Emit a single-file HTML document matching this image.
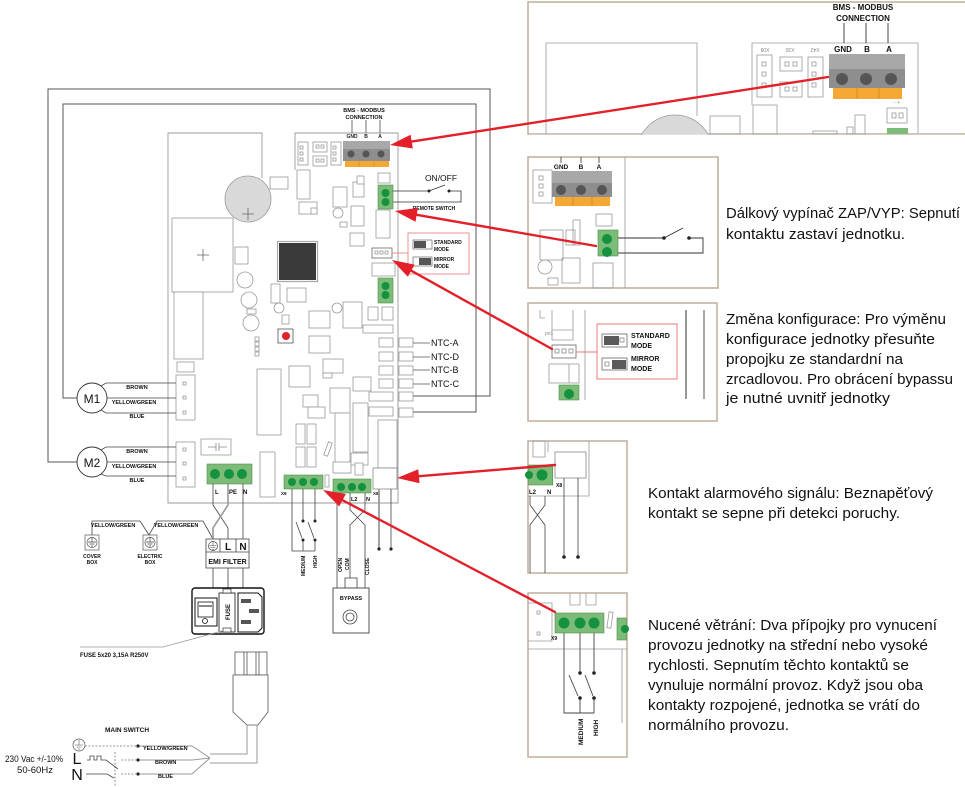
<!DOCTYPE html>
<html><head><meta charset="utf-8">
<style>html,body{margin:0;padding:0;background:#fff}svg{display:block}</style></head>
<body>
<svg width="965" height="787" viewBox="0 0 965 787" xmlns="http://www.w3.org/2000/svg" font-family="Liberation Sans, sans-serif">
<rect width="965" height="787" fill="#fff"/>

<!-- ================= MAIN DIAGRAM ================= -->
<g fill="none" stroke="#555" stroke-width="1">
  <path d="M77,462 H48 V89 H490 V396 H413"/>
  <path d="M77,398 H63 V104 H476 V412 H413"/>
</g>

<g fill="none" stroke="#999" stroke-width="0.9">
  <path d="M262,178 V133 H168 V503 H398 V133 H295 V170"/>
</g>

<g fill="#fff" stroke="#9a9a9a" stroke-width="0.8">
  <rect x="298" y="142" width="10" height="23"/>
  <rect x="313" y="142" width="14" height="10"/>
  <rect x="313" y="156" width="14" height="10"/>
  <rect x="331" y="142" width="10" height="23"/>
  <rect x="300" y="146" width="3" height="3"/><rect x="300" y="152" width="3" height="3"/><rect x="300" y="158" width="3" height="3"/>
  <rect x="316" y="145" width="3" height="3"/><rect x="321" y="145" width="3" height="3"/>
  <rect x="316" y="159" width="3" height="3"/><rect x="321" y="159" width="3" height="3"/>
  <rect x="333" y="146" width="3" height="3"/><rect x="333" y="152" width="3" height="3"/><rect x="333" y="158" width="3" height="3"/>
  <circle cx="248" cy="199" r="23" fill="#d9d9d9" stroke="#999"/>
  <rect x="270" y="177" width="18" height="12"/>
  <rect x="297" y="170" width="13" height="29"/>
  <rect x="299" y="202" width="18" height="12"/><rect x="311" y="208" width="6" height="6"/>
  <rect x="378" y="173" width="12" height="10"/>
  <rect x="333" y="187" width="14" height="20"/>
  <rect x="353" y="182" width="11" height="15"/><rect x="357" y="176" width="7" height="8"/>
  <circle cx="338" cy="213" r="5"/><rect x="340" y="222" width="7" height="5"/>
  <rect x="351" y="206" width="13" height="20"/>
  <rect x="376" y="210" width="14" height="28"/>
  <rect x="350" y="233" width="14" height="13"/>
  <rect x="172" y="218" width="61" height="74"/>
  <rect x="174" y="292" width="29" height="67"/>
  <rect x="235" y="247" width="13" height="17"/>
  <circle cx="245" cy="280" r="8"/><circle cx="249" cy="300" r="8"/><circle cx="251" cy="323" r="8"/>
  <rect x="247" y="309" width="9" height="5"/>
  <rect x="271" y="284" width="9" height="19"/><circle cx="279" cy="308" r="5"/><rect x="282" y="315" width="7" height="9"/>
  <rect x="287" y="288" width="19" height="14"/>
  <rect x="255" y="337" width="4" height="4"/><rect x="255" y="342" width="4" height="4"/><rect x="255" y="347" width="4" height="4"/><rect x="255" y="352" width="4" height="4"/>
  <rect x="257" y="369" width="24" height="66"/>
  <rect x="309" y="311" width="21" height="17"/>
  <rect x="309" y="336" width="21" height="17"/>
  <rect x="289" y="366" width="21" height="21"/>
  <rect x="323" y="359" width="20" height="14"/><rect x="323" y="373" width="9" height="5"/>
  <rect x="343" y="302" width="19" height="26"/>
  <circle cx="337" cy="308" r="5"/>
  <rect x="368" y="307" width="10" height="13"/><rect x="382" y="307" width="11" height="13"/>
  <rect x="363" y="325" width="30" height="8"/>
  <rect x="379" y="338" width="14" height="9"/><rect x="379" y="352" width="14" height="9"/>
  <rect x="379" y="366" width="14" height="9"/><rect x="379" y="379" width="14" height="9"/>
  <rect x="369" y="392" width="24" height="9"/><rect x="369" y="407" width="24" height="9"/>
  <rect x="399" y="338" width="14" height="9"/><rect x="399" y="352" width="14" height="9"/>
  <rect x="399" y="366" width="14" height="9"/><rect x="399" y="379" width="14" height="9"/>
  <rect x="399" y="392" width="14" height="9"/><rect x="399" y="408" width="14" height="9"/>
  <rect x="353" y="377" width="18" height="14"/>
  <rect x="330" y="388" width="20" height="25"/>
  <rect x="303" y="395" width="15" height="12"/><rect x="308" y="407" width="17" height="11"/>
  <rect x="335" y="413" width="15" height="60"/>
  <rect x="353" y="403" width="15" height="49"/>
  <rect x="378" y="420" width="19" height="48"/>
  <rect x="296" y="424" width="9" height="20"/><rect x="307" y="424" width="9" height="20"/>
  <rect x="296" y="447" width="9" height="20"/><rect x="307" y="447" width="9" height="20"/>
  <rect x="326" y="442" width="4" height="14" transform="rotate(20 328 449)"/>
  <rect x="325" y="475" width="4" height="12"/>
  <rect x="177" y="362" width="17" height="10"/>
  <rect x="176" y="375" width="19" height="45"/>
  <rect x="183" y="382" width="3" height="3"/><rect x="183" y="396" width="3" height="3"/><rect x="183" y="411" width="3" height="3"/>
  <rect x="176" y="442" width="19" height="45"/>
  <rect x="183" y="448" width="3" height="3"/><rect x="183" y="462" width="3" height="3"/><rect x="183" y="477" width="3" height="3"/>
  <rect x="201" y="439" width="30" height="16"/>
  <rect x="260" y="452" width="15" height="45"/>
  <rect x="333" y="462" width="18" height="11"/><rect x="351" y="453" width="17" height="12"/><rect x="355" y="463" width="8" height="12"/>
  <rect x="373" y="468" width="24" height="21" stroke="#888"/>
  <rect x="372" y="263" width="23" height="13"/>
  <rect x="372" y="248" width="20" height="10" stroke="#666"/>
  <rect x="375" y="251" width="3" height="3"/><rect x="380" y="251" width="3" height="3"/><rect x="385" y="251" width="3" height="3"/>
</g>
<path d="M242,214 h12 M248,208 v12 M197,255 h12 M203,249 v12" stroke="#666" stroke-width="0.8"/>
<path d="M208,447 h8 M216,443 v8 M219,443 v8 M219,447 h8" stroke="#888" stroke-width="0.8" fill="none"/>
<rect x="277.5" y="241.5" width="40" height="40" fill="none" stroke="#555" stroke-width="1.2" stroke-dasharray="1,1"/>
<rect x="279" y="243" width="37" height="37" fill="#3a3a3a"/>
<rect x="278" y="329" width="15" height="14" fill="#fff" stroke="#555" stroke-width="0.8"/>
<circle cx="286" cy="336" r="4" fill="#e0202a"/>

<rect x="343" y="141" width="47" height="8" fill="#a8a8a8"/>
<rect x="343" y="149" width="47" height="12" fill="#8e8e8e"/>
<rect x="345" y="161" width="44" height="6" fill="#f5a833"/>
<path d="M359,161 v6 M374,161 v6" stroke="#c98a20" stroke-width="0.6"/>
<circle cx="351" cy="154" r="3.5" fill="#555"/><circle cx="366" cy="154" r="3.5" fill="#555"/><circle cx="381" cy="154" r="3.5" fill="#555"/>
<g font-size="5" font-weight="bold" fill="#222" text-anchor="middle">
  <text x="352" y="138">GND</text><text x="366" y="138">B</text><text x="380" y="138">A</text>
</g>
<path d="M352,120 V133 M366,120 V133 M380,120 V133" stroke="#333" stroke-width="0.7"/>
<g font-size="5.5" font-weight="bold" fill="#111" text-anchor="middle">
  <text x="364" y="112">BMS - MODBUS</text>
  <text x="364" y="119">CONNECTION</text>
</g>

<rect x="378" y="185" width="15" height="24" fill="#7cbb78" stroke="#4d8f4d" stroke-width="0.6"/>
<circle cx="385.5" cy="193" r="4" fill="#14923f"/><circle cx="385.5" cy="202" r="4" fill="#14923f"/>
<rect x="378" y="278" width="15" height="25" fill="#7cbb78" stroke="#4d8f4d" stroke-width="0.6"/>
<circle cx="385.5" cy="286" r="4" fill="#14923f"/><circle cx="385.5" cy="295" r="4" fill="#14923f"/>

<g stroke="#333" stroke-width="0.8" fill="none">
  <path d="M393,191 H429 L445,185 M449,191 H461 V202 H393"/>
</g>
<circle cx="429" cy="191" r="1.5" fill="#222"/><circle cx="449" cy="191" r="1.5" fill="#222"/>
<text x="441" y="181" font-size="8.5" text-anchor="middle" fill="#111">ON/OFF</text>
<text x="434" y="210" font-size="5" font-weight="bold" text-anchor="middle" fill="#111">REMOTE SWITCH</text>

<path d="M392,253 H408" stroke="#e87878" stroke-width="0.8"/>
<rect x="408" y="233" width="61" height="41" fill="none" stroke="#e87878" stroke-width="0.8"/>
<rect x="413" y="240" width="19" height="9" fill="#fff" stroke="#666" stroke-width="0.7"/>
<rect x="414" y="241" width="12" height="7" fill="#555"/>
<rect x="413" y="257" width="19" height="9" fill="#fff" stroke="#666" stroke-width="0.7"/>
<rect x="419" y="258" width="12" height="7" fill="#555"/>
<g font-size="5" font-weight="bold" fill="#111">
  <text x="434" y="244">STANDARD</text><text x="434" y="251">MODE</text>
  <text x="434" y="261">MIRROR</text><text x="434" y="268">MODE</text>
</g>

<path d="M413,343 H430 M413,357 H430 M413,370 H430 M413,384 H430" stroke="#555" stroke-width="0.8"/>
<g font-size="9" fill="#111">
  <text x="431" y="346">NTC-A</text><text x="431" y="360">NTC-D</text>
  <text x="431" y="373">NTC-B</text><text x="431" y="387">NTC-C</text>
</g>

<g fill="#fff" stroke="#333" stroke-width="0.9">
  <circle cx="92" cy="398" r="15"/>
  <circle cx="92" cy="462" r="15"/>
</g>
<g font-size="12" fill="#111" text-anchor="middle">
  <text x="92" y="403">M1</text><text x="92" y="467">M2</text>
</g>
<g stroke="#444" stroke-width="0.8" fill="none">
  <path d="M101,386 L106,383 H176 M107,398 H176 M101,410 L106,413 H176"/>
  <path d="M101,450 L106,447 H176 M107,462 H176 M101,474 L106,476 H176"/>
</g>
<g font-size="5.5" font-weight="bold" fill="#111" text-anchor="middle">
  <text x="137" y="389">BROWN</text><text x="134" y="404">YELLOW/GREEN</text><text x="137" y="418">BLUE</text>
  <text x="137" y="453">BROWN</text><text x="134" y="468">YELLOW/GREEN</text><text x="137" y="482">BLUE</text>
</g>

<rect x="207" y="464" width="45" height="20" fill="#7cbb78" stroke="#4d8f4d" stroke-width="0.6"/>
<circle cx="215" cy="474" r="5" fill="#14923f"/><circle cx="229" cy="474" r="5" fill="#14923f"/><circle cx="242" cy="474" r="5" fill="#14923f"/>
<g font-size="6" font-weight="bold" fill="#111">
  <text x="215" y="494">L</text><text x="229" y="494">PE</text><text x="243" y="494">N</text>
</g>
<rect x="284" y="475" width="39" height="14" fill="#7cbb78" stroke="#4d8f4d" stroke-width="0.6"/>
<circle cx="292" cy="482" r="4" fill="#14923f"/><circle cx="303" cy="482" r="4" fill="#14923f"/><circle cx="314" cy="482" r="4" fill="#14923f"/>
<text x="281" y="495" font-size="4.5" font-weight="bold" fill="#111">X9</text>
<rect x="333" y="479" width="38" height="14" fill="#7cbb78" stroke="#4d8f4d" stroke-width="0.6"/>
<circle cx="341" cy="487" r="4" fill="#14923f"/><circle cx="352" cy="487" r="4" fill="#14923f"/><circle cx="362" cy="487" r="4" fill="#14923f"/>
<g font-size="5.5" font-weight="bold" fill="#111">
  <text x="351" y="501">L2</text><text x="366" y="501">N</text>
  <text x="373" y="495" font-size="4.5">X8</text>
</g>

<g stroke="#444" stroke-width="0.8" fill="none">
  <path d="M213,484 V505 L228,528 V539"/>
  <path d="M243,484 V539"/>
  <path d="M213,568 V588 M228,568 V588 M243,568 V588"/>
  <path d="M92,535 V521 H140 L149,535 L157,521 H203 L213,539"/>
  <path d="M292,489 V551 H315 M303,489 V521 M315,489 V521 M303,540 V551 M315,540 V551"/>
  <path d="M296,522 L302,538 M308,522 L314,538"/>
  <path d="M337,493 V588 M350,493 V510 L365,525 V588 M365,493 V510 L350,525 V578"/>
  <path d="M391,489 V549"/>
</g>
<path d="M228,484 V505 L213,528 V539" stroke="#999" stroke-width="1.6" fill="none"/>
<path d="M379,489 V549" stroke="#999" stroke-width="1.8"/>
<circle cx="303" cy="521" r="1.5" fill="#222"/><circle cx="315" cy="521" r="1.5" fill="#222"/>
<circle cx="303" cy="540" r="1.5" fill="#222"/><circle cx="315" cy="540" r="1.5" fill="#222"/>
<circle cx="379" cy="549" r="1.6" fill="#222"/><circle cx="391" cy="549" r="1.6" fill="#222"/>
<g font-size="5" font-weight="bold" fill="#111">
  <text transform="translate(305,576) rotate(-90)">MEDIUM</text>
  <text transform="translate(317,568) rotate(-90)">HIGH</text>
  <text transform="translate(342,572) rotate(-90)">OPEN</text>
  <text transform="translate(349,570) rotate(-90)">COM</text>
  <text transform="translate(369,575) rotate(-90)">CLOSE</text>
</g>
<g font-size="5.5" font-weight="bold" fill="#111">
  <text x="113" y="527" text-anchor="middle">YELLOW/GREEN</text>
  <text x="176" y="527" text-anchor="middle">YELLOW/GREEN</text>
</g>

<g fill="#fff" stroke="#555" stroke-width="0.7">
  <rect x="85" y="535" width="14" height="15"/>
  <rect x="143" y="535" width="14" height="15"/>
  <circle cx="92" cy="542.5" r="5"/>
  <circle cx="150" cy="542.5" r="5"/>
</g>
<path d="M92,537 V542 M88,542 H96 M89.5,544 H94.5 M91,546 H93 M150,537 V542 M146,542 H154 M147.5,544 H152.5 M149,546 H151" stroke="#444" stroke-width="0.7"/>
<g font-size="5" font-weight="bold" fill="#111" text-anchor="middle">
  <text x="92" y="558">COVER</text><text x="92" y="564">BOX</text>
  <text x="150" y="558">ELECTRIC</text><text x="150" y="564">BOX</text>
</g>

<rect x="206" y="539" width="43" height="29" fill="#fff" stroke="#444" stroke-width="0.8"/>
<path d="M206,552 H249 M220,539 V552 M236,539 V552" stroke="#444" stroke-width="0.8"/>
<circle cx="213" cy="546" r="4.5" fill="none" stroke="#444" stroke-width="0.7"/>
<path d="M213,541 V545.5 M209.5,545.5 H216.5 M210.5,547.5 H215.5 M212,549.5 H214" stroke="#444" stroke-width="0.6"/>
<g fill="#111" text-anchor="middle" font-weight="bold">
  <text x="228" y="550" font-size="10">L</text><text x="243" y="550" font-size="10">N</text>
  <text x="227.5" y="564" font-size="7">EMI FILTER</text>
</g>

<rect x="192" y="588" width="72" height="46" rx="3" fill="#fff" stroke="#111" stroke-width="1.4"/>
<rect x="195" y="598" width="22" height="28" fill="#fff" stroke="#111" stroke-width="1"/>
<rect x="198" y="602" width="15" height="15" fill="#fff" stroke="#111" stroke-width="0.8"/>
<path d="M199,606 H212" stroke="#111" stroke-width="1"/>
<circle cx="205" cy="621" r="2.5" fill="none" stroke="#111" stroke-width="0.8"/>
<rect x="219" y="593" width="16" height="39" fill="#fff" stroke="#111" stroke-width="0.8"/>
<rect x="223" y="589" width="8" height="4" fill="#fff" stroke="#111" stroke-width="0.6"/>
<rect x="223" y="628" width="8" height="4" fill="#fff" stroke="#111" stroke-width="0.6"/>
<text transform="translate(230,620) rotate(-90)" font-size="6" font-weight="bold" fill="#111">FUSE</text>
<path d="M238,593 H258 L262,597 V628 L258,632 H238 Z" fill="#fff" stroke="#111" stroke-width="1"/>
<rect x="241" y="599" width="10" height="4" fill="#555"/>
<rect x="249" y="609" width="10" height="4" fill="#555"/>
<rect x="241" y="620" width="10" height="4" fill="#555"/>
<path d="M222,631 L163,647 H80" stroke="#999" stroke-width="0.8" fill="none"/>
<text x="80" y="657" font-size="6" font-weight="bold" fill="#111">FUSE 5x20 3,15A  R250V</text>

<rect x="345" y="578" width="12" height="10" fill="#fff" stroke="#444" stroke-width="0.8"/>
<rect x="333" y="588" width="36" height="45" fill="#fff" stroke="#444" stroke-width="0.9"/>
<text x="351" y="600" font-size="5.5" font-weight="bold" text-anchor="middle" fill="#111">BYPASS</text>
<circle cx="350" cy="617" r="7" fill="#fff" stroke="#444" stroke-width="0.8"/>
<circle cx="350" cy="617" r="4" fill="#fff" stroke="#444" stroke-width="0.8"/>

<rect x="235" y="652" width="32" height="23" fill="#fff" stroke="#555" stroke-width="0.8"/>
<path d="M244,652 V675 M247,652 V675 M256,652 V675 M259,652 V675" stroke="#555" stroke-width="0.8"/>
<path d="M233,675 H268 V712 L258,725 H247 L233,712 Z" fill="#fff" stroke="#555" stroke-width="0.8"/>
<path d="M247,725 V754 H210 M257,725 V763 H210" stroke="#999" stroke-width="1" fill="none"/>
<g stroke="#999" stroke-width="1" fill="none">
  <path d="M210,758 L192,746 H138"/>
  <path d="M210,758 L192,760 H138"/>
  <path d="M210,758 L192,774 H138"/>
</g>
<g stroke="#777" stroke-width="0.8" stroke-dasharray="2,1.5" fill="none">
  <path d="M85,746 H136"/><path d="M121,760 H136"/><path d="M121,774 H136"/>
  <path d="M115,752 V787"/>
</g>
<circle cx="138" cy="746" r="1.6" fill="#222"/><circle cx="138" cy="760" r="1.6" fill="#222"/><circle cx="138" cy="774" r="1.6" fill="#222"/>
<g font-size="5.5" font-weight="bold" fill="#111">
  <text x="143" y="750">YELLOW/GREEN</text><text x="155" y="764">BROWN</text><text x="158" y="778">BLUE</text>
  <text x="127" y="732" text-anchor="middle" font-size="6.5">MAIN SWITCH</text>
</g>
<circle cx="79" cy="745" r="6" fill="#fff" stroke="#555" stroke-width="0.7"/>
<path d="M79,740 V745 M75,745 H83 M76.5,747 H81.5 M78,749 H80" stroke="#555" stroke-width="0.6"/>
<path d="M87,760 H90 V756 H94 V760 H97 V756 H101 V760 H106 L118,769" stroke="#444" stroke-width="0.8" fill="none"/>
<path d="M86,774 H107 L114,778" stroke="#444" stroke-width="0.8" fill="none"/>
<g fill="#111">
  <text x="77" y="764" font-size="16" text-anchor="middle">L</text>
  <text x="77" y="780" font-size="16" text-anchor="middle">N</text>
  <text x="5" y="762" font-size="9.5" textLength="58" lengthAdjust="spacingAndGlyphs">230 Vac +/-10%</text>
  <text x="35" y="773" font-size="9.5" text-anchor="middle">50-60Hz</text>
</g>

<!-- ================= PANEL 1 ================= -->
<rect x="528" y="2" width="450" height="132" fill="#fff" stroke="#bfae9c" stroke-width="1.5"/>
<circle cx="675" cy="153" r="38" fill="#d9d9d9" stroke="#999" stroke-width="0.8"/>
<rect x="528.75" y="134.75" width="436" height="30" fill="#fff"/>
<g fill="none" stroke="#9a9a9a" stroke-width="0.8">
  <path d="M546,134 V43 H697 V116"/>
  <path d="M752,105 V43 H918 V133"/>
  <rect x="710" y="116" width="30" height="18"/>
  <rect x="753" y="105" width="24" height="29"/>
  <rect x="757" y="55" width="15" height="42"/>
  <rect x="780" y="57" width="22" height="14"/><rect x="780" y="82" width="22" height="15"/>
  <rect x="808" y="57" width="15" height="40"/>
  <rect x="762" y="62" width="4" height="4"/><rect x="762" y="72" width="4" height="4"/><rect x="762" y="83" width="4" height="4"/>
  <rect x="785" y="62" width="4" height="4"/><rect x="793" y="62" width="4" height="4"/>
  <rect x="785" y="87" width="4" height="4"/><rect x="793" y="87" width="4" height="4"/>
  <rect x="812" y="62" width="4" height="4"/><rect x="812" y="72" width="4" height="4"/><rect x="812" y="83" width="4" height="4"/>
  <rect x="847" y="127" width="6" height="7"/><rect x="855" y="115" width="10" height="19"/>
  <rect x="813" y="131" width="24" height="3"/>
  <rect x="887" y="108" width="20" height="15"/>
  <rect x="892" y="113" width="4" height="5"/><rect x="899" y="113" width="4" height="5"/>
</g>
<g font-size="5" fill="#888" text-anchor="middle">
  <text transform="translate(765,48) rotate(180)">X08</text>
  <text transform="translate(790,48) rotate(180)">X30</text>
  <text transform="translate(815,48) rotate(180)">X42</text>
  <text x="897" y="104">- +</text>
</g>
<rect x="829" y="54" width="76" height="15" fill="#a8a8a8"/>
<rect x="829" y="69" width="76" height="19" fill="#8e8e8e"/>
<rect x="833" y="88" width="69" height="11" fill="#f5a833"/>
<path d="M857,88 v11 M879,88 v11" stroke="#c98a20" stroke-width="0.8"/>
<circle cx="842" cy="79" r="6" fill="#555"/><circle cx="866" cy="79" r="6" fill="#555"/><circle cx="891" cy="79" r="6" fill="#555"/>
<path d="M844,23 V43 M866,23 V43 M888,23 V43" stroke="#333" stroke-width="0.9"/>
<g font-size="8" font-weight="bold" fill="#111" text-anchor="middle">
  <text x="843" y="52">GND</text><text x="867" y="52">B</text><text x="889" y="52">A</text>
</g>
<g font-size="8" font-weight="bold" fill="#111" text-anchor="middle">
  <text x="863" y="10">BMS - MODBUS</text>
  <text x="863" y="21">CONNECTION</text>
</g>
<rect x="887" y="128" width="21" height="6" fill="#7cbb78"/>

<!-- ================= PANEL 2 ================= -->
<rect x="528" y="157" width="190" height="131" fill="#fff" stroke="#bfae9c" stroke-width="1.5"/>
<g fill="none" stroke="#9a9a9a" stroke-width="0.8">
  <path d="M625,157 V288"/>
  <rect x="533" y="170" width="19" height="33"/>
  <rect x="539" y="176" width="4" height="4"/><rect x="539" y="184" width="4" height="4"/><rect x="539" y="192" width="4" height="4"/>
  <rect x="596" y="214" width="16" height="12"/>
  <rect x="573" y="220" width="7" height="25"/><rect x="566" y="230" width="9" height="15"/>
  <rect x="540" y="230" width="23" height="30"/>
  <rect x="562" y="258" width="18" height="25"/>
  <circle cx="545" cy="267" r="7"/>
  <rect x="548" y="278" width="10" height="7"/>
  <rect x="593" y="263" width="20" height="25"/>
</g>
<rect x="552" y="171" width="60" height="12" fill="#a8a8a8"/>
<rect x="552" y="183" width="60" height="14" fill="#8e8e8e"/>
<rect x="555" y="197" width="55" height="9" fill="#f5a833"/>
<path d="M573,197 v9 M592,197 v9" stroke="#c98a20" stroke-width="0.8"/>
<circle cx="561" cy="190" r="5" fill="#555"/><circle cx="581" cy="190" r="5" fill="#555"/><circle cx="602" cy="190" r="5" fill="#555"/>
<g font-size="6.5" font-weight="bold" fill="#111" text-anchor="middle">
  <text x="561" y="169">GND</text><text x="581" y="169">B</text><text x="599" y="169">A</text>
</g>
<path d="M561,157 V163 M581,157 V163 M599,157 V163" stroke="#333" stroke-width="0.8"/>
<rect x="598" y="230" width="20" height="26" fill="#7cbb78" stroke="#4d8f4d" stroke-width="0.6"/>
<circle cx="607" cy="239" r="5" fill="#14923f"/><circle cx="607" cy="252" r="5" fill="#14923f"/>
<path d="M618,238 H664 L683,228 M689,238 H703 V253 H618" stroke="#333" stroke-width="0.9" fill="none"/>
<circle cx="664" cy="238" r="1.8" fill="#222"/><circle cx="689" cy="238" r="1.8" fill="#222"/>
<g font-size="15" fill="#111" font-weight="500">
  <text x="726" y="218" textLength="234" lengthAdjust="spacingAndGlyphs">Dálkový vypínač ZAP/VYP: Sepnutí</text>
  <text x="726" y="239" textLength="179" lengthAdjust="spacingAndGlyphs">kontaktu zastaví jednotku.</text>
</g>

<!-- ================= PANEL 3 ================= -->
<rect x="528" y="303" width="189" height="118" fill="#fff" stroke="#bfae9c" stroke-width="1.5"/>
<g fill="none" stroke="#9a9a9a" stroke-width="0.8">
  <path d="M585,310 V400"/>
  <path d="M552,310 V340 H573 V310 M552,330 H573"/>
  <path d="M540,310 V318 H545"/>
  <rect x="549" y="364" width="30" height="19"/><path d="M569,364 V383"/>
</g>
<text x="545" y="335" font-size="5" fill="#888">pn1</text>
<rect x="552" y="345" width="24" height="13" fill="#fff" stroke="#666" stroke-width="0.8"/>
<rect x="555" y="349" width="4" height="4" fill="none" stroke="#666" stroke-width="0.6"/>
<rect x="562" y="349" width="4" height="4" fill="none" stroke="#666" stroke-width="0.6"/>
<rect x="569" y="349" width="4" height="4" fill="none" stroke="#666" stroke-width="0.6"/>
<path d="M576,352 H597" stroke="#e87878" stroke-width="0.9"/>
<rect x="597" y="324" width="80" height="55" fill="none" stroke="#e87878" stroke-width="1"/>
<rect x="602" y="334" width="25" height="13" fill="#fff" stroke="#666" stroke-width="0.8"/>
<rect x="604" y="336" width="15" height="9" fill="#5a5a5a"/>
<rect x="620" y="338" width="4" height="4" fill="none" stroke="#666" stroke-width="0.6"/>
<rect x="602" y="358" width="25" height="12" fill="#fff" stroke="#666" stroke-width="0.8"/>
<rect x="612" y="360" width="14" height="9" fill="#5a5a5a"/>
<rect x="605" y="362" width="4" height="4" fill="none" stroke="#666" stroke-width="0.6"/>
<g font-size="7" font-weight="bold" fill="#111">
  <text x="631" y="338">STANDARD</text><text x="631" y="348">MODE</text>
  <text x="631" y="361">MIRROR</text><text x="631" y="371">MODE</text>
</g>
<rect x="559" y="385" width="20" height="15" fill="#7cbb78" stroke="#4d8f4d" stroke-width="0.6"/>
<circle cx="569" cy="394" r="5" fill="#14923f"/>
<path d="M686,310 V399" stroke="#333" stroke-width="1"/>
<path d="M704,310 V399" stroke="#aaa" stroke-width="2"/>
<g font-size="15" fill="#111" font-weight="500">
  <text x="726" y="324" textLength="220" lengthAdjust="spacingAndGlyphs">Změna konfigurace: Pro výměnu</text>
  <text x="726" y="344" textLength="209" lengthAdjust="spacingAndGlyphs">konfigurace jednotky přesuňte</text>
  <text x="726" y="364" textLength="177" lengthAdjust="spacingAndGlyphs">propojku ze standardní na</text>
  <text x="726" y="384" textLength="227" lengthAdjust="spacingAndGlyphs">zrcadlovou. Pro obrácení bypassu</text>
  <text x="726" y="403" textLength="164" lengthAdjust="spacingAndGlyphs">je nutné uvnitř jednotky</text>
</g>

<!-- ================= PANEL 4 ================= -->
<rect x="528" y="441" width="99" height="132" fill="#fff" stroke="#bfae9c" stroke-width="1.5"/>
<g fill="none" stroke="#9a9a9a" stroke-width="0.8">
  <rect x="533" y="441" width="12" height="16"/>
  <path d="M548,441 V452"/>
  <path d="M528,496 H589 V441"/>
</g>
<rect x="528.75" y="465" width="24" height="20" fill="#7cbb78" stroke="#4d8f4d" stroke-width="0.6"/>
<circle cx="542" cy="475" r="5.5" fill="#14923f"/>
<circle cx="529" cy="475" r="4" fill="#14923f"/>
<rect x="555" y="452" width="31" height="26" fill="#fff" stroke="#888" stroke-width="0.8"/>
<path d="M564,478 V557 M578,478 V557" stroke="#444" stroke-width="0.8"/>
<circle cx="564" cy="557" r="1.8" fill="#222"/><circle cx="578" cy="557" r="1.8" fill="#222"/>
<path d="M530,496 V505 L545,525 V573 M545,496 V505 L530,525 V573" stroke="#444" stroke-width="0.8" fill="none"/>
<g font-size="6" font-weight="bold" fill="#111">
  <text x="529" y="494">L2</text><text x="547" y="494">N</text><text x="556" y="487" font-size="5">X8</text>
</g>
<g font-size="15" fill="#111" font-weight="500">
  <text x="648" y="498" textLength="285" lengthAdjust="spacingAndGlyphs">Kontakt alarmového signálu: Beznapěťový</text>
  <text x="648" y="518" textLength="252" lengthAdjust="spacingAndGlyphs">kontakt se sepne při detekci poruchy.</text>
</g>

<!-- ================= PANEL 5 ================= -->
<rect x="528" y="593" width="99" height="164" fill="#fff" stroke="#bfae9c" stroke-width="1.5"/>
<g fill="none" stroke="#9a9a9a" stroke-width="0.8">
  <path d="M528,603 H552 V641 H528"/>
  <rect x="537" y="611" width="3" height="3"/><rect x="537" y="632" width="3" height="3"/>
  <path d="M570,593 V605 H580 V593 M586,593 V605 H596 V593"/>
  <rect x="608" y="612" width="4" height="16" transform="rotate(8 610 620)"/>
  <path d="M528,649 H627"/>
  <path d="M622,649 V723"/>
</g>
<rect x="555" y="613" width="49" height="20" fill="#7cbb78" stroke="#4d8f4d" stroke-width="0.6"/>
<circle cx="564" cy="623" r="5.5" fill="#14923f"/><circle cx="580" cy="623" r="5.5" fill="#14923f"/><circle cx="594" cy="623" r="5.5" fill="#14923f"/>
<rect x="617" y="618" width="9.25" height="22" fill="#7cbb78" stroke="#4d8f4d" stroke-width="0.6"/>
<circle cx="625" cy="629" r="4" fill="#14923f"/>
<text x="551" y="640" font-size="5" font-weight="bold" fill="#111">X9</text>
<g stroke="#444" stroke-width="0.9" fill="none">
  <path d="M564,633 V713 H594 M580,633 V673 M594,633 V673 M580,698 V713 M594,698 V713"/>
  <path d="M569,675 L578,696 M585,675 L593,696"/>
</g>
<circle cx="580" cy="673" r="1.8" fill="#222"/><circle cx="594" cy="673" r="1.8" fill="#222"/>
<circle cx="580" cy="698" r="1.8" fill="#222"/><circle cx="594" cy="698" r="1.8" fill="#222"/>
<g font-size="6.5" font-weight="bold" fill="#111">
  <text transform="translate(583,745) rotate(-90)">MEDIUM</text>
  <text transform="translate(598,736) rotate(-90)">HIGH</text>
</g>
<g font-size="15" fill="#111" font-weight="500">
  <text x="648" y="630" textLength="289" lengthAdjust="spacingAndGlyphs">Nucené větrání: Dva přípojky pro vynucení</text>
  <text x="648" y="650" textLength="280" lengthAdjust="spacingAndGlyphs">provozu jednotky na střední nebo vysoké</text>
  <text x="648" y="670" textLength="261" lengthAdjust="spacingAndGlyphs">rychlosti. Sepnutím těchto kontaktů se</text>
  <text x="648" y="690" textLength="275" lengthAdjust="spacingAndGlyphs">vynuluje normální provoz. Když jsou oba</text>
  <text x="648" y="710" textLength="272" lengthAdjust="spacingAndGlyphs">kontakty rozpojené, jednotka se vrátí do</text>
  <text x="648" y="730" textLength="141" lengthAdjust="spacingAndGlyphs">normálního provozu.</text>
</g>

<!-- ================= RED ARROWS ================= -->
<g stroke="#e3202a" stroke-width="2.4" fill="none" stroke-linecap="round">
  <path d="M828,77 L411.7,141.6"/>
  <path d="M596,246 L416.7,214.8"/>
  <path d="M552,349 L411.2,270.7"/>
  <path d="M555,465 L418.9,476.2"/>
  <path d="M555,612 L342.5,500.2"/>
</g>
<g fill="#e3202a">
  <polygon points="390,145 410.6,134.7 412.8,148.5"/>
  <polygon points="395,211 417.9,207.9 415.5,221.7"/>
  <polygon points="392,260 414.6,264.6 407.8,276.8"/>
  <polygon points="397,478 418.3,469.2 419.5,483.2"/>
  <polygon points="323,490 345.8,494.0 339.2,506.4"/>
</g>
</svg>
</body></html>
